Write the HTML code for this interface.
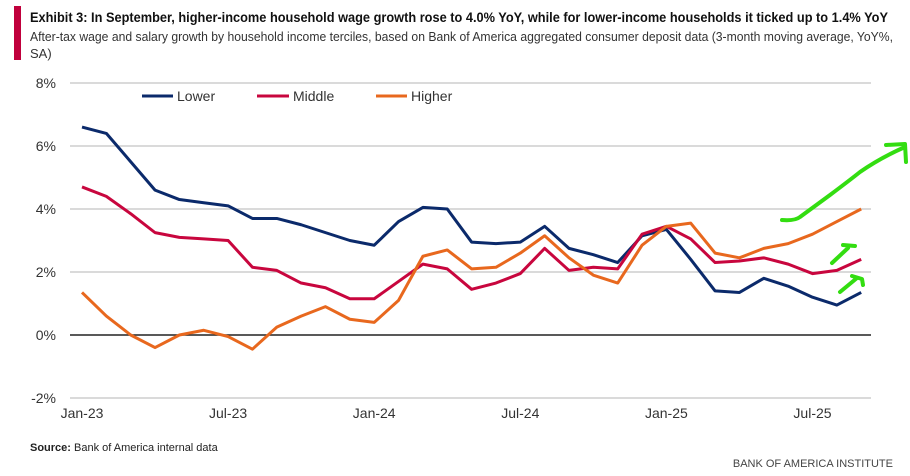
<!DOCTYPE html>
<html><head><meta charset="utf-8"><style>
body{margin:0;background:#fff;}
svg{display:block;font-family:"Liberation Sans",sans-serif;}
</style></head><body>
<svg id="chart" width="910" height="476" viewBox="0 0 910 476">
<rect x="14" y="6" width="7" height="54" fill="#c0003c"/>
<text x="30" y="22" font-size="14" font-weight="bold" fill="#111" textLength="858" lengthAdjust="spacingAndGlyphs">Exhibit 3: In September, higher-income household wage growth rose to 4.0% YoY, while for lower-income households it ticked up to 1.4% YoY</text>
<text x="30" y="41" font-size="13" fill="#333" textLength="863" lengthAdjust="spacingAndGlyphs">After-tax wage and salary growth by household income terciles, based on Bank of America aggregated consumer deposit data (3-month moving average, YoY%,</text>
<text x="30" y="58" font-size="13" fill="#333">SA)</text>
<g id="grid"></g><g id="series"></g>
<g font-size="14" fill="#333">
<line x1="142" y1="96" x2="173" y2="96" stroke="#0b2a6b" stroke-width="3"/><text x="177" y="101">Lower</text>
<line x1="257" y1="96" x2="289" y2="96" stroke="#c8063e" stroke-width="3"/><text x="293" y="101">Middle</text>
<line x1="376" y1="96" x2="407" y2="96" stroke="#e8681e" stroke-width="3"/><text x="411" y="101">Higher</text>
</g>
<g fill="none" stroke="#33dd11" stroke-width="4" stroke-linecap="round" stroke-linejoin="round">
<path d="M782 220 Q795 221 800 217 L830 195 Q850 180 860 172 Q880 158 905 147"/>
<path d="M886 145 L905 144 L906 162"/>
<path d="M832 263 L848 248 M843 245 L855 246"/>
<path d="M840 292 L857 278 M852 276 L862 279 L863 285"/>
</g>
<text x="30" y="451" font-size="11" fill="#222"><tspan font-weight="bold">Source:</tspan> Bank of America internal data</text>
<text x="893" y="467" font-size="11" fill="#444" text-anchor="end">BANK OF AMERICA INSTITUTE</text>
</svg>
<script>
const yTicks=[8,6,4,2,0,-2];
const yTickLabels=["8%","6%","4%","2%","0%","-2%"];
const xTickIdx=[0,6,12,18,24,30];
const xTickLabels=["Jan-23","Jul-23","Jan-24","Jul-24","Jan-25","Jul-25"];
const lower=[6.6,6.4,5.5,4.6,4.3,4.2,4.1,3.7,3.7,3.5,3.25,3.0,2.85,3.6,4.05,4.0,2.95,2.9,2.95,3.45,2.75,2.55,2.3,3.15,3.35,2.4,1.4,1.35,1.8,1.55,1.2,0.95,1.35];
const middle=[4.7,4.4,3.85,3.25,3.1,3.05,3.0,2.15,2.05,1.65,1.5,1.15,1.15,1.7,2.25,2.1,1.45,1.65,1.95,2.75,2.05,2.15,2.1,3.2,3.45,3.05,2.3,2.35,2.45,2.25,1.95,2.05,2.4];
const higher=[1.35,0.6,0.0,-0.4,0.0,0.15,-0.05,-0.45,0.25,0.6,0.9,0.5,0.4,1.1,2.5,2.7,2.1,2.15,2.6,3.15,2.45,1.9,1.65,2.85,3.45,3.55,2.6,2.45,2.75,2.9,3.2,3.6,4.0];
const NS="http://www.w3.org/2000/svg";
const x=i=>82+i*24.35;
const y=v=>335-v*31.5;
function mk(tag,attrs,parent){const e=document.createElementNS(NS,tag);for(const k in attrs)e.setAttribute(k,attrs[k]);parent.appendChild(e);return e;}
const grid=document.getElementById('grid');
yTicks.forEach((t,i)=>{
  const l=mk('line',{x1:70,x2:871,y1:y(t),y2:y(t),stroke:t===0?'#222':'#c4c4c4','stroke-width':t===0?1.5:1.2},grid);
  
  
  const tx=mk('text',{x:56,y:y(t)+5,'font-size':14,fill:'#333','text-anchor':'end'},grid);
  tx.textContent=yTickLabels[i];
  
  
});
xTickIdx.forEach((d,i)=>{
  const tx=mk('text',{x:x(d),y:418,'font-size':14,fill:'#333','text-anchor':'middle'},grid);
  tx.textContent=xTickLabels[i];
  
  
});
const ser=document.getElementById('series');
[[lower,'#0b2a6b','line-lower'],[middle,'#c8063e','line-middle'],[higher,'#e8681e','line-higher']].forEach(([d,c,n])=>{
  const p=mk('polyline',{points:d.map((v,i)=>x(i)+','+y(v)).join(' '),fill:'none',stroke:c,'stroke-width':3,'stroke-linejoin':'round'},ser);
  
  
});
</script>
</body></html>
